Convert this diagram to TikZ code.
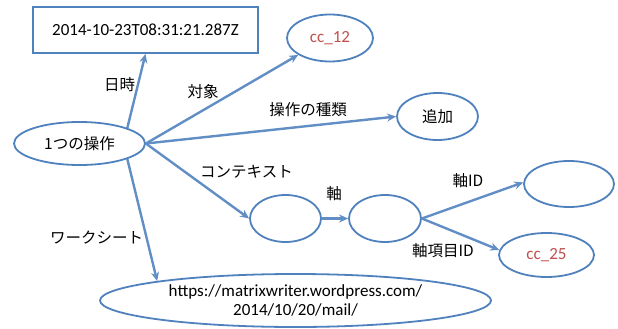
\documentclass[tikz,border=0pt]{standalone}
\usepackage{fontspec}
\setmainfont{Carlito}
\newfontfamily\jp{Noto Sans CJK JP}
\usetikzlibrary{shapes.geometric,arrows.meta}
\definecolor{obl}{HTML}{4F81BD}
\definecolor{ored}{HTML}{C0504D}
\begin{document}
\begin{tikzpicture}[x=1pt,y=-1pt,
  ell/.style={ellipse,draw=obl,line width=1.8pt,inner sep=0pt,fill=white},
  box/.style={rectangle,draw=obl,line width=1.8pt,inner sep=0pt,fill=white},
  lat/.style={font=\fontsize{17}{19}\selectfont},
  redt/.style={font=\fontsize{17}{19}\selectfont,text=ored},
  jpt/.style={font=\jp\fontsize{15.5}{18}\selectfont},
  arr/.style={draw=obl!90!white,line width=2.4pt,-{Stealth[length=9pt,width=8pt]}}]
\useasboundingbox (0,0) rectangle (618,329);
% nodes
\node[box,lat,minimum width=225pt,minimum height=46pt] (rect) at (145.5,30) {2014-10-23T08:31:21.287Z};
\node[ell,jpt,minimum width=131pt,minimum height=43pt] (op) at (79.5,143.5) {1つの操作};
\node[ell,redt,minimum width=86pt,minimum height=47pt] (cc12) at (330,38) {cc\_12};
\node[ell,jpt,minimum width=81pt,minimum height=47pt] (add) at (437.5,116.5) {追加};
\node[ell,minimum width=71pt,minimum height=47pt] (ctx) at (285.5,218.5) {};
\node[ell,minimum width=72pt,minimum height=47pt] (axis) at (385,218.5) {};
\node[ell,minimum width=90pt,minimum height=46pt] (aid) at (569,184) {};
\node[ell,redt,minimum width=95pt,minimum height=44pt] (cc25) at (546.5,255) {cc\_25};
\node[ell,lat,align=center,minimum width=391pt,minimum height=53pt] (url) at (295.5,300.5) {https://matrixwriter.wordpress.com/\\[-0.5pt]2014/10/20/mail/};
% edges
\draw[arr] (op.18) -- (rect.south);
\draw[arr] (op.east) -- (cc12.208);
\draw[arr] (op.east) -- (add.west);
\draw[arr] (op.east) -- (ctx.west);
\draw[arr] (op.-18) -- (url.172);
\draw[arr] (ctx.east) -- (axis.west);
\draw[arr] (axis.east) -- (aid.178);
\draw[arr] (axis.east) -- (cc25.174);
% labels
\node[jpt] (l1) at (119.5,85) {日時};
\node[jpt] (l2) at (203,92) {対象};
\node[jpt] (l3) at (308,110) {操作の種類};
\node[jpt] (l4) at (246.5,171.5) {コンテキスト};
\node[jpt] (l5) at (96.5,238) {ワークシート};
\node[jpt] (l6) at (334,194) {軸};
\node[jpt] (l7) at (468,180.5) {軸ID};
\node[jpt] (l8) at (443,250.5) {軸項目ID};
\end{tikzpicture}
\end{document}
